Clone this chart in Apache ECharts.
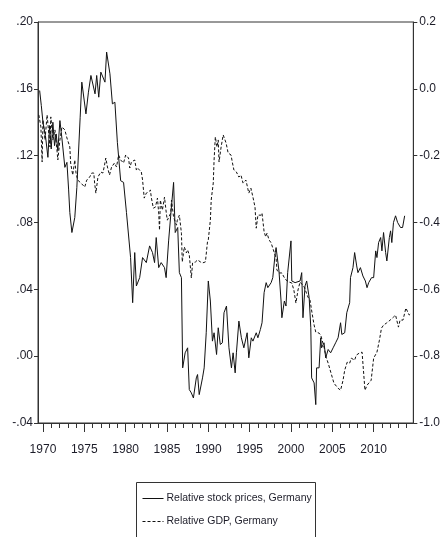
<!DOCTYPE html>
<html>
<head>
<meta charset="utf-8">
<script src="https://cdn.jsdelivr.net/npm/echarts@6/dist/echarts.min.js"></script>
<style>
  html, body { margin: 0; padding: 0; background: #fff; }
  #chart { width: 443px; height: 537px; }
</style>
</head>
<body>
<div id="chart"></div>
<script>
// relative stock prices (left axis)
var stockYears = [
    1969.6, 1969.8, 1970.0, 1970.3, 1970.6, 1970.8, 1971.0, 1971.2, 1971.4, 1971.6, 1971.8, 1972.05, 1972.3, 1972.65, 1972.9,
    1973.1, 1973.25, 1973.5, 1973.85, 1974.1, 1974.5, 1974.7, 1975.2, 1975.5, 1975.8, 1976.0, 1976.3, 1976.5, 1976.75, 1977.0,
    1977.5, 1977.7, 1978.1, 1978.4, 1978.7, 1979.0, 1979.4, 1979.75, 1980.1, 1980.6, 1980.85, 1981.1, 1981.3, 1981.7, 1982.05,
    1982.5, 1982.9, 1983.25, 1983.5, 1983.7, 1984.0, 1984.3, 1984.7, 1984.9, 1985.2, 1985.5, 1985.8, 1986.0, 1986.3, 1986.5,
    1986.75, 1986.9, 1987.2, 1987.5, 1987.7, 1987.95, 1988.2, 1988.55, 1988.7, 1988.9, 1989.3, 1989.5, 1989.75, 1990.0, 1990.25,
    1990.5, 1990.7, 1991.0, 1991.2, 1991.45, 1991.7, 1991.9, 1992.2, 1992.5, 1992.8, 1993.0, 1993.25, 1993.4, 1993.7, 1994.0,
    1994.3, 1994.7, 1994.9, 1995.2, 1995.4, 1995.8, 1996.0, 1996.3, 1996.5, 1996.75, 1997.0, 1997.2, 1997.6, 1997.8, 1998.1,
    1998.2, 1998.55, 1998.8, 1998.9, 1999.2, 1999.4, 1999.6, 2000.0, 2000.1, 2000.5, 2000.7, 2001.1, 2001.3, 2001.45, 2001.7,
    2001.9, 2002.2, 2002.4, 2002.5, 2002.8, 2003.0, 2003.1, 2003.4, 2003.6, 2003.7, 2004.0, 2004.2, 2004.5, 2004.8, 2005.1,
    2005.4, 2005.7, 2006.0, 2006.15, 2006.5, 2006.75, 2007.1, 2007.2, 2007.5, 2007.7, 2007.95, 2008.1, 2008.4, 2008.7, 2009.0,
    2009.2, 2009.4, 2009.75, 2010.0, 2010.25, 2010.4, 2010.6, 2010.85, 2011.0, 2011.2, 2011.45, 2011.6, 2011.9, 2012.05, 2012.2,
    2012.4, 2012.65, 2012.9, 2013.25, 2013.5, 2013.75
];
var stockValues = [
    0.159, 0.150, 0.140, 0.132, 0.119, 0.138, 0.124, 0.140, 0.126, 0.133, 0.123, 0.141, 0.130, 0.113, 0.116,
    0.100, 0.086, 0.074, 0.083, 0.101, 0.143, 0.164, 0.145, 0.158, 0.168, 0.168, 0.157, 0.168, 0.155, 0.170,
    0.164, 0.182, 0.169, 0.151, 0.152, 0.128, 0.105, 0.104, 0.086, 0.059, 0.032, 0.062, 0.042, 0.047, 0.059,
    0.056, 0.066, 0.062, 0.056, 0.071, 0.053, 0.056, 0.053, 0.047, 0.069, 0.087, 0.104, 0.074, 0.077, 0.050,
    0.047, -0.007, 0.002, 0.005, -0.020, -0.022, -0.025, -0.013, -0.011, -0.023, -0.013, -0.007, 0.014, 0.045, 0.033,
    0.009, 0.014, 0.001, 0.017, 0.007, 0.008, 0.026, 0.030, 0.005, -0.007, 0.002, -0.010, 0.002, 0.021, 0.011,
    0.005, 0.014, -0.001, 0.011, 0.009, 0.014, 0.011, 0.016, 0.020, 0.038, 0.044, 0.041, 0.044, 0.047, 0.062,
    0.065, 0.051, 0.033, 0.023, 0.033, 0.030, 0.050, 0.069, 0.045, 0.044, 0.044, 0.045, 0.050, 0.023, 0.042,
    0.045, 0.035, 0.017, -0.013, -0.016, -0.029, -0.007, -0.007, 0.011, 0.005, 0.008, -0.001, 0.004, 0.002, 0.005,
    0.008, 0.011, 0.020, 0.013, 0.014, 0.026, 0.032, 0.047, 0.053, 0.062, 0.054, 0.050, 0.053, 0.048, 0.045,
    0.041, 0.044, 0.047, 0.047, 0.063, 0.059, 0.068, 0.071, 0.063, 0.074, 0.062, 0.057, 0.071, 0.075, 0.068,
    0.080, 0.084, 0.080, 0.077, 0.077, 0.084
];

// relative GDP (right axis)
var gdpYears = [
    1969.5, 1969.75, 1969.9, 1970.0, 1970.25, 1970.5, 1970.85, 1970.95, 1971.2, 1971.45, 1971.55, 1971.8, 1972.05, 1972.3, 1972.65,
    1972.9, 1973.25, 1973.35, 1973.6, 1973.85, 1974.0, 1974.2, 1974.6, 1974.8, 1975.05, 1975.3, 1975.65, 1975.9, 1976.15, 1976.25,
    1976.4, 1976.65, 1977.0, 1977.25, 1977.45, 1977.6, 1977.8, 1978.05, 1978.3, 1978.65, 1978.9, 1979.15, 1979.4, 1979.75, 1980.0,
    1980.35, 1980.5, 1980.7, 1981.1, 1981.3, 1981.45, 1981.9, 1982.05, 1982.25, 1982.5, 1982.75, 1983.0, 1983.1, 1983.35, 1983.6,
    1983.85, 1984.0, 1984.1, 1984.2, 1984.45, 1984.7, 1984.95, 1985.05, 1985.45, 1985.55, 1985.8, 1986.15, 1986.25, 1986.5, 1986.75,
    1986.85, 1987.1, 1987.35, 1987.5, 1987.7, 1987.95, 1988.1, 1988.45, 1988.7, 1989.05, 1989.3, 1989.65, 1989.9, 1990.0, 1990.25,
    1990.35, 1990.6, 1990.7, 1990.85, 1991.05, 1991.2, 1991.3, 1991.55, 1991.8, 1992.15, 1992.4, 1992.75, 1992.9, 1993.1, 1993.4,
    1993.7, 1993.95, 1994.2, 1994.55, 1994.7, 1994.9, 1995.15, 1995.4, 1995.65, 1995.8, 1996.0, 1996.4, 1996.5, 1996.75, 1996.95,
    1997.1, 1997.35, 1997.6, 1997.7, 1997.95, 1998.2, 1998.3, 1998.55, 1998.9, 1999.15, 1999.4, 1999.75, 2000.1, 2000.35, 2000.6,
    2000.85, 2001.1, 2001.3, 2001.6, 2001.8, 2002.05, 2002.3, 2002.55, 2002.8, 2003.0, 2003.4, 2003.6, 2004.0, 2004.25, 2004.5,
    2004.85, 2005.2, 2005.7, 2006.0, 2006.3, 2006.5, 2006.8, 2007.1, 2007.3, 2007.7, 2007.9, 2008.25, 2008.6, 2008.95, 2009.2,
    2009.7, 2010.0, 2010.4, 2010.7, 2010.95, 2011.2, 2011.55, 2012.0, 2012.4, 2012.65, 2013.0, 2013.2, 2013.55, 2013.9, 2014.3,
    2014.55
];
var gdpValues = [
    -0.078, -0.114, -0.219, -0.093, -0.153, -0.078, -0.174, -0.084, -0.153, -0.123, -0.144, -0.213, -0.153, -0.114, -0.123,
    -0.147, -0.174, -0.222, -0.258, -0.213, -0.252, -0.273, -0.282, -0.279, -0.294, -0.273, -0.264, -0.252, -0.252, -0.282,
    -0.312, -0.264, -0.249, -0.252, -0.228, -0.207, -0.234, -0.258, -0.234, -0.222, -0.234, -0.198, -0.213, -0.222, -0.198,
    -0.207, -0.237, -0.219, -0.213, -0.243, -0.237, -0.249, -0.273, -0.327, -0.312, -0.309, -0.303, -0.324, -0.357, -0.354,
    -0.327, -0.372, -0.423, -0.333, -0.363, -0.324, -0.378, -0.393, -0.372, -0.333, -0.384, -0.408, -0.393, -0.378, -0.432,
    -0.518, -0.473, -0.491, -0.482, -0.497, -0.566, -0.521, -0.518, -0.512, -0.518, -0.521, -0.518, -0.458, -0.452, -0.393,
    -0.333, -0.282, -0.213, -0.144, -0.174, -0.153, -0.219, -0.174, -0.138, -0.162, -0.192, -0.198, -0.219, -0.243, -0.249,
    -0.264, -0.258, -0.282, -0.273, -0.276, -0.312, -0.297, -0.324, -0.354, -0.417, -0.378, -0.378, -0.372, -0.428, -0.443,
    -0.432, -0.452, -0.461, -0.458, -0.488, -0.506, -0.542, -0.551, -0.551, -0.563, -0.572, -0.578, -0.581, -0.602, -0.641,
    -0.602, -0.578, -0.581, -0.593, -0.596, -0.623, -0.632, -0.671, -0.707, -0.728, -0.731, -0.737, -0.773, -0.803, -0.821,
    -0.851, -0.881, -0.896, -0.902, -0.872, -0.842, -0.818, -0.821, -0.806, -0.812, -0.797, -0.791, -0.788, -0.902, -0.887,
    -0.872, -0.806, -0.788, -0.752, -0.716, -0.707, -0.701, -0.692, -0.683, -0.677, -0.713, -0.692, -0.692, -0.656, -0.677,
    -0.671
];

var majorYears = [1970, 1975, 1980, 1985, 1990, 1995, 2000, 2005, 2010];
var minorYears = [];
for (var y = 1970; y <= 2014; y++) {
    minorYears.push(y);
}

var seriesNames = ['Relative stock prices, Germany', 'Relative GDP, Germany'];

function toPairs(xs, ys) {
    var out = [];
    for (var i = 0; i < xs.length; i++) {
        out.push([xs[i], ys[i]]);
    }
    return out;
}

var axisFont = '"Liberation Sans", Arial, sans-serif';
var inkColor = '#1c1c28';
var frameColor = '#333';

var myChart = echarts.init(document.getElementById('chart'));
var option = {
    animation: false,
    backgroundColor: '#fff',
    grid: {
        left: 38,
        right: 28,
        top: 22,
        bottom: 114,
        show: true,
        borderColor: frameColor,
        borderWidth: 1
    },
    // legend frame, open at the bottom edge like the reference
    graphic: [
        {
            type: 'rect',
            shape: { x: 136.5, y: 482.5, width: 179, height: 80 },
            style: { fill: 'none', stroke: frameColor, lineWidth: 1 },
            silent: true
        }
    ],
    legend: {
        data: seriesNames,
        orient: 'vertical',
        left: 142,
        top: 493,
        padding: 0,
        itemWidth: 21,
        itemHeight: 12,
        itemGap: 12,
        itemStyle: { opacity: 0 },
        lineStyle: { width: 1 },
        textStyle: {
            fontFamily: axisFont,
            fontSize: 10.5,
            color: inkColor,
            padding: [0, 0, 0, -2]
        }
    },
    xAxis: [
        {
            type: 'value',
            position: 'bottom',
            min: 1969.4,
            max: 2014.8,
            splitLine: { show: false },
            axisLine: { onZero: false, lineStyle: { color: frameColor } },
            axisTick: {
                customValues: majorYears,
                length: 9,
                lineStyle: { color: frameColor }
            },
            axisLabel: {
                customValues: majorYears,
                margin: 21,
                fontFamily: axisFont,
                fontSize: 12,
                color: inkColor,
                formatter: function (v) {
                    return String(v);
                }
            }
        },
        {
            type: 'value',
            position: 'bottom',
            min: 1969.4,
            max: 2014.8,
            splitLine: { show: false },
            axisLine: { show: false, onZero: false },
            axisTick: {
                customValues: minorYears,
                length: 5,
                lineStyle: { color: frameColor }
            },
            axisLabel: { show: false }
        }
    ],
    yAxis: [
        {
            type: 'value',
            position: 'left',
            min: -0.04,
            max: 0.20,
            interval: 0.04,
            splitLine: { show: false },
            axisLine: { show: true, lineStyle: { color: frameColor } },
            axisTick: { show: true, length: 4, lineStyle: { color: frameColor } },
            axisLabel: {
                margin: 5,
                fontFamily: axisFont,
                fontSize: 12,
                color: inkColor,
                formatter: function (v) {
                    return v.toFixed(2).replace('0.', '.');
                }
            }
        },
        {
            type: 'value',
            position: 'right',
            min: -1.0,
            max: 0.2,
            interval: 0.2,
            splitLine: { show: false },
            axisLine: { show: true, lineStyle: { color: frameColor } },
            axisTick: { show: true, length: 4, lineStyle: { color: frameColor } },
            axisLabel: {
                margin: 6,
                fontFamily: axisFont,
                fontSize: 12,
                color: inkColor,
                formatter: function (v) {
                    return v.toFixed(1);
                }
            }
        }
    ],
    series: [
        {
            name: seriesNames[0],
            type: 'line',
            xAxisIndex: 0,
            yAxisIndex: 0,
            symbol: 'none',
            data: toPairs(stockYears, stockValues),
            lineStyle: { color: '#111', width: 1, type: 'solid' },
            itemStyle: { color: '#111' }
        },
        {
            name: seriesNames[1],
            type: 'line',
            xAxisIndex: 0,
            yAxisIndex: 1,
            symbol: 'none',
            data: toPairs(gdpYears, gdpValues),
            lineStyle: { color: '#111', width: 1, type: [3, 2] },
            itemStyle: { color: '#111' }
        }
    ]
};
myChart.setOption(option);
</script>
</body>
</html>
